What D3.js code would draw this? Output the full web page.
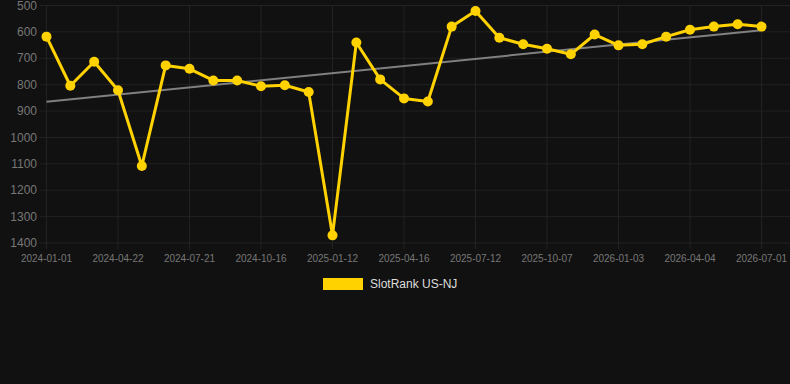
<!DOCTYPE html>
<html>
<head>
<meta charset="utf-8">
<script src="https://cdn.jsdelivr.net/npm/d3@7"></script>
<style>
  html, body { margin: 0; padding: 0; background: #111111; }
  svg { display: block; font-family: "Liberation Sans", Arial, sans-serif; }
</style>
</head>
<body>
<div id="canvas"></div>
<script>
// one point per date, labels shown every 3rd
var dates = ["2024-01-01", "2024-02-07", "2024-03-15", "2024-04-22", "2024-05-22", "2024-06-21",
    "2024-07-21", "2024-08-19", "2024-09-17", "2024-10-16", "2024-11-14", "2024-12-13",
    "2025-01-12", "2025-02-12", "2025-03-15", "2025-04-16", "2025-05-15", "2025-06-13",
    "2025-07-12", "2025-08-10", "2025-09-08", "2025-10-07", "2025-11-05", "2025-12-04",
    "2026-01-03", "2026-02-02", "2026-03-05", "2026-04-04", "2026-05-03", "2026-06-01",
    "2026-07-01"];
var ranks = [618, 804, 713, 821, 1108, 727, 740, 784, 784, 806, 802, 828,
    1371, 640, 780, 852, 864, 580, 521, 622, 647, 664, 685, 610,
    651, 647, 618, 592, 580, 571, 580];
var yTicks = [500, 600, 700, 800, 900, 1000, 1100, 1200, 1300, 1400];
var seriesName = "SlotRank US-NJ";

var W = 790, H = 384;
var plot = {left: 46.5, right: 761.5, top: 5.5, bottom: 243};

var svg = d3.select("#canvas").append("svg")
    .attr("width", W)
    .attr("height", H);

svg.append("rect").attr("width", W).attr("height", H).attr("fill", "#111111");

var x = d3.scalePoint().domain(dates).range([plot.left, plot.right]);
var y = d3.scaleLinear().domain([500, 1400]).range([plot.top, plot.bottom]);

var labelDates = dates.filter(function(d, i) { return i % 3 === 0; });

// grid
var grid = svg.append("g");
grid.selectAll("line.h")
    .data(yTicks)
  .enter().append("line")
    .attr("class", "h")
    .attr("x1", plot.left - 7).attr("x2", W)
    .attr("y1", function(d) { return y(d); })
    .attr("y2", function(d) { return y(d); })
    .attr("stroke", "#222222").attr("stroke-width", 1);
grid.selectAll("line.v")
    .data(labelDates)
  .enter().append("line")
    .attr("class", "v")
    .attr("x1", function(d) { return x(d); })
    .attr("x2", function(d) { return x(d); })
    .attr("y1", plot.top).attr("y2", plot.bottom + 6)
    .attr("stroke", "#222222").attr("stroke-width", 1);

// axis labels
svg.append("g").selectAll("text")
    .data(yTicks)
  .enter().append("text")
    .attr("x", 37)
    .attr("y", function(d) { return y(d); })
    .attr("dy", "0.35em")
    .attr("text-anchor", "end")
    .attr("fill", "#777777")
    .style("font-size", "12px")
    .text(function(d) { return d; });

svg.append("g").selectAll("text")
    .data(labelDates)
  .enter().append("text")
    .attr("x", function(d) { return x(d); })
    .attr("y", 262)
    .attr("text-anchor", "middle")
    .attr("fill", "#777777")
    .style("font-size", "10px")
    .text(function(d) { return d; });

// least squares trend
var n = ranks.length, mx = (n - 1) / 2, my = d3.mean(ranks);
var sxy = 0, sxx = 0;
ranks.forEach(function(v, i) { sxy += (i - mx) * (v - my); sxx += (i - mx) * (i - mx); });
var slope = sxy / sxx, icpt = my - slope * mx;

svg.append("line")
    .attr("x1", x(dates[0])).attr("y1", y(icpt))
    .attr("x2", x(dates[n - 1])).attr("y2", y(icpt + slope * (n - 1)))
    .attr("stroke", "#808080").attr("stroke-width", 2);

var line = d3.line()
    .x(function(d, i) { return x(dates[i]); })
    .y(function(d) { return y(d); });

svg.append("path")
    .datum(ranks)
    .attr("d", line)
    .attr("fill", "none")
    .attr("stroke", "#FFD200")
    .attr("stroke-width", 3)
    .attr("stroke-linejoin", "round");

svg.append("g").selectAll("circle")
    .data(ranks)
  .enter().append("circle")
    .attr("cx", function(d, i) { return x(dates[i]); })
    .attr("cy", function(d) { return y(d); })
    .attr("r", 5)
    .attr("fill", "#FFD200");

// legend
var lg = svg.append("g").attr("transform", "translate(323,278)");
lg.append("rect").attr("width", 40).attr("height", 12).attr("fill", "#FFD200");
lg.append("text")
    .attr("x", 47).attr("y", 6).attr("dy", "0.35em")
    .attr("fill", "#dddddd")
    .style("font-size", "12px")
    .text(seriesName);
</script>
</body>
</html>
